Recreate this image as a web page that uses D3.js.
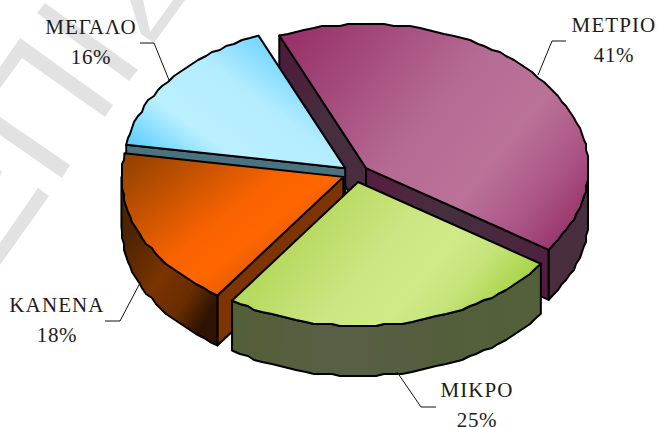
<!DOCTYPE html>
<html>
<head>
<meta charset="utf-8">
<script src="https://cdnjs.cloudflare.com/ajax/libs/d3/7.8.5/d3.min.js"></script>
<style>
html,body{margin:0;padding:0;background:#fff;overflow:hidden}
svg{display:block}
text{font-family:"Liberation Serif","Times New Roman",serif;font-size:21px;fill:#1c1c1c;text-anchor:middle}
.nm{letter-spacing:1.1px}
.pc{letter-spacing:.7px}
</style>
</head>
<body>
<svg id="c" width="658" height="427"></svg>
<script>
const categories = ["ΜΕΤΡΙΟ","ΜΙΚΡΟ","ΚΑΝΕΝΑ","ΜΕΓΑΛΟ"];
const values = [41,25,18,16];
const percentLabels = ["41%","25%","18%","16%"];

const W=658,H=427, cx=355.7, cy=173.5, rx=222, ry=144, depth=50, explode=0.06;
const svg=d3.select("#c");
const defs=svg.append("defs");

function grad(id,p,stops){
  const g=defs.append("linearGradient").attr("id",id).attr("gradientUnits","userSpaceOnUse")
    .attr("x1",p[0]).attr("y1",p[1]).attr("x2",p[2]).attr("y2",p[3]);
  stops.forEach(s=>g.append("stop").attr("offset",s[0]).attr("stop-color",s[1]));
  return `url(#${id})`;
}
const styles=[
 {top:grad("t0",[300,30,565,245],[[0,"#98336a"],[.45,"#b56a93"],[.68,"#bb7298"],[.85,"#ab5686"],[1,"#973268"]]),
  outer:grad("o0",[548,290,588,170],[[0,"#4a2c3e"],[1,"#45303d"]]),
  startWall:grad("s0",[280,60,366,200],[[0,"#4c1c3a"],[.5,"#45303e"],[1,"#4a2a3e"]]),
  endWall:grad("e0",[366,190,548,280],[[0,"#561e3e"],[.4,"#45303e"],[.85,"#4c2440"],[1,"#541a40"]])},
 {top:grad("t1",[345,165,505,300],[[0,"#b4d85c"],[.4,"#cce683"],[.62,"#d0ea88"],[.8,"#c6e47a"],[1,"#a9d44a"]]),
  outer:grad("o1",[232,320,540,340],[[0,"#535f36"],[.35,"#595f46"],[.7,"#535e3c"],[1,"#546038"]])},
 {top:grad("t2",[135,160,245,300],[[0,"#984400"],[.55,"#f86200"],[.75,"#ff6600"],[1,"#d95700"]]),
  outer:grad("o2",[124,240,218,300],[[0,"#4d2300"],[.45,"#7a3400"],[.75,"#6a2d00"],[1,"#2e1400"]]),
  startWall:"#7e3400"},
 {top:grad("t3",[262,38,160,178],[[0,"#72d6ff"],[.3,"#b4ecff"],[.65,"#baf0ff"],[1,"#4cc8ff"]]),
  outer:"#4f7480",
  startWall:"#4a7280"}
];

const pie=d3.pie().value(d=>d).sort(null).startAngle(-23*Math.PI/180).endAngle(337*Math.PI/180);
const arcs=pie(values);
const line=d3.line().curve(d3.curveLinear);

// coarse outline, like the reference's low-resolution export
function arcPts(c,a0,a1,dy=0){
  const n=Math.max(2,Math.ceil(Math.abs(a1-a0)*rx/9)), pts=[];
  for(let i=0;i<=n;i++){
    const a=a0+(a1-a0)*i/n;
    let x=c[0]+rx*Math.sin(a), y=c[1]-ry*Math.cos(a);
    if(i>0&&i<n){x=Math.round(x/2)*2;y=Math.round(y/2)*2;}
    pts.push([x,y+dy]);
  }
  return pts;
}
const pt=(c,a,dy=0)=>[c[0]+rx*Math.sin(a),c[1]-ry*Math.cos(a)+dy];
const g=svg.append("g");
function shape(pts,fill){
  g.append("path").attr("d",line(pts)+"Z").attr("fill",fill).attr("stroke","#000")
   .attr("stroke-width",2).attr("stroke-linejoin","round");
}

// watermark behind the chart
const watermark=[
 [[45,3],[37,13],[129,81],[138,70]],
 [[20,38],[113,105],[105,117],[22,58],[0,88],[0,67]],
 [[0,117],[70,165],[62,178],[0,135]],
 [[38,188],[49,196],[0,265],[0,243]],
 [[0,170],[2,171],[0,176]],
 [[130,0],[143,0],[150,32],[173,0],[185,0],[154,43],[141,34]]
];
svg.insert("g",":first-child").selectAll("path").data(watermark).join("path")
  .attr("d",d=>line(d)+"Z").attr("fill","#e2e2e2");

// draw back to front: ΜΕΤΡΙΟ, ΜΕΓΑΛΟ, ΚΑΝΕΝΑ, ΜΙΚΡΟ
[0,3,2,1].forEach(i=>{
  const d=arcs[i], s=styles[i], mid=(d.startAngle+d.endAngle)/2;
  const c=[cx+rx*explode*Math.sin(mid), cy-ry*explode*Math.cos(mid)];
  const a0=d.startAngle,a1=d.endAngle;
  const wall=(a,fill)=>shape([c,pt(c,a),pt(c,a,depth),[c[0],c[1]+depth]],fill);
  if(i===0){wall(a0,s.startWall);wall(a1,s.endWall);}
  if(i===2||i===3){wall(a0,s.startWall);}
  // outer rim on the front half of the ellipse
  const f0=Math.max(a0,Math.PI/2), f1=Math.min(a1,3*Math.PI/2);
  if(f1>f0){
    const topE=arcPts(c,f0,f1), botE=arcPts(c,f0,f1,depth).reverse();
    shape(topE.concat(botE),s.outer);
  }
  shape([c].concat(arcPts(c,a0,a1)),s.top);
});

// labels and leader lines
const labelAt=[[614,32],[477,397],[57,312],[91,34]];
const leaders=[
 [[566,41],[552,41],[538,75]],
 [[436,407],[421,407],[397,372]],
 [[105,321],[120,321],[140,283]],
 [[140,43],[154,43],[169,80]]
];
svg.append("g").selectAll("path").data(leaders).join("path")
  .attr("d",d=>line(d)).attr("fill","none").attr("stroke","#111").attr("stroke-width",1);
const lg=svg.append("g");
categories.forEach((name,i)=>{
  lg.append("text").attr("class","nm").attr("x",labelAt[i][0]).attr("y",labelAt[i][1]).text(name);
  lg.append("text").attr("class","pc").attr("x",labelAt[i][0]).attr("y",labelAt[i][1]+30).text(percentLabels[i]);
});
</script>
</body>
</html>
